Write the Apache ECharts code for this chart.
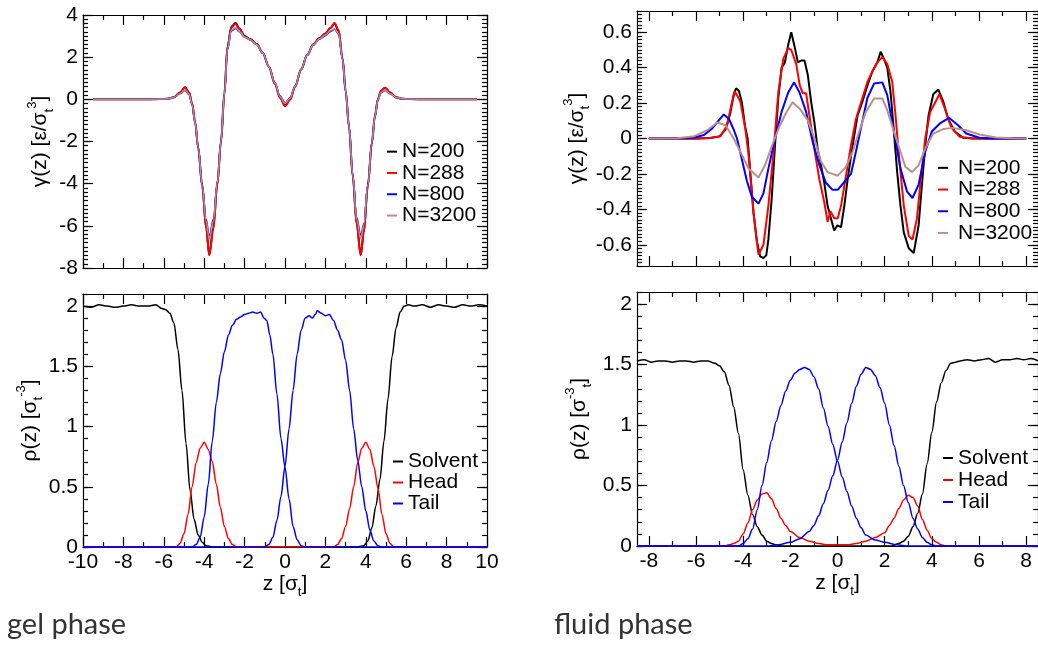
<!DOCTYPE html>
<html><head><meta charset="utf-8">
<script src="https://cdn.jsdelivr.net/npm/echarts@6/dist/echarts.min.js"></script>
<style>html,body{margin:0;padding:0;background:#fff}#c{width:1038px;height:645px}</style>
</head><body><div id="c"></div><script>
// ---------- gel phase, gamma(z) ----------
const zGelG = [-9.5, -7, -6.2, -5.8, -5.5, -5.2, -4.95, -4.75, -4.6, -4.45, -4.3, -4.1, -3.9, -3.75, -3.55, -3.35, -3.17, -3.0, -2.85, -2.65, -2.45, -2.25, -2.0, -1.7, -1.4, -1.1, -0.8, -0.5, -0.25, 0, 0.25, 0.5, 0.8, 1.1, 1.4, 1.7, 2.0, 2.25, 2.45, 2.65, 2.85, 3.0, 3.17, 3.35, 3.55, 3.75, 3.9, 4.1, 4.3, 4.45, 4.6, 4.75, 4.95, 5.2, 5.5, 5.8, 6.2, 7, 9.5];
const gelN200 = [0, 0, 0.01, 0.03, 0.1, 0.32, 0.57, 0.32, -0.2, -1.1, -2.3, -4.1, -6.1, -7.38, -6.1, -4.0, -2.0, 0.3, 2.5, 3.45, 3.62, 3.35, 3.0, 2.85, 2.62, 2.2, 1.55, 0.75, 0.1, -0.3, 0.0, 0.6, 1.42, 2.1, 2.6, 2.9, 3.12, 3.38, 3.6, 3.25, 1.9, 0.4, -1.3, -3.6, -5.9, -7.38, -6.3, -4.1, -2.1, -0.8, 0.0, 0.4, 0.55, 0.32, 0.1, 0.03, 0.01, 0, 0];
const gelN288 = [0, 0, 0.01, 0.03, 0.1, 0.31, 0.56, 0.33, -0.18, -1.05, -2.25, -4.1, -6.1, -7.4, -6.15, -4.05, -2.05, 0.25, 2.45, 3.42, 3.57, 3.33, 2.98, 2.83, 2.62, 2.2, 1.55, 0.73, 0.08, -0.32, -0.02, 0.6, 1.42, 2.1, 2.6, 2.88, 3.1, 3.38, 3.62, 3.3, 1.95, 0.42, -1.3, -3.65, -5.95, -7.4, -6.3, -4.1, -2.05, -0.78, 0.0, 0.4, 0.55, 0.32, 0.1, 0.03, 0.01, 0, 0];
const gelN800 = [0, 0, 0.01, 0.03, 0.09, 0.26, 0.42, 0.22, -0.25, -1.1, -2.25, -4.0, -5.7, -6.5, -5.7, -3.9, -2.0, 0.25, 2.35, 3.25, 3.36, 3.2, 2.95, 2.8, 2.6, 2.2, 1.57, 0.8, 0.17, -0.17, 0.08, 0.65, 1.44, 2.1, 2.58, 2.85, 3.02, 3.22, 3.32, 3.1, 1.9, 0.4, -1.25, -3.5, -5.6, -6.45, -5.9, -4.0, -2.05, -0.85, -0.05, 0.3, 0.42, 0.26, 0.08, 0.03, 0.01, 0, 0];
const gelN3200 = [0, 0, 0.01, 0.03, 0.09, 0.27, 0.44, 0.24, -0.24, -1.1, -2.25, -4.05, -5.8, -6.62, -5.8, -3.95, -2.0, 0.25, 2.38, 3.28, 3.4, 3.22, 2.96, 2.82, 2.6, 2.2, 1.56, 0.78, 0.14, -0.2, 0.05, 0.63, 1.43, 2.1, 2.58, 2.86, 3.05, 3.25, 3.35, 3.12, 1.9, 0.4, -1.27, -3.55, -5.7, -6.6, -5.95, -4.05, -2.05, -0.83, -0.03, 0.33, 0.44, 0.27, 0.09, 0.03, 0.01, 0, 0];

// ---------- gel phase, rho(z) ----------
const zSolG = [-10, -9.6, -9.2, -8.8, -8.4, -8, -7.6, -7.2, -6.8, -6.4, -6.1, -5.9, -5.7, -5.5, -5.3, -5.1, -4.9, -4.7, -4.5, -4.3, -4.1, -3.9, -3.5, 3.5, 3.9, 4.1, 4.3, 4.5, 4.7, 4.9, 5.1, 5.3, 5.5, 5.7, 5.9, 6.1, 6.4, 6.8, 7.2, 7.6, 8, 8.4, 8.8, 9.2, 9.6, 10];
const solG = [2.0, 1.99, 2.01, 2.0, 1.99, 2.0, 2.01, 2.0, 2.0, 2.01, 1.98, 1.97, 1.94, 1.86, 1.64, 1.3, 0.86, 0.47, 0.23, 0.1, 0.04, 0.01, 0, 0, 0.01, 0.05, 0.16, 0.34, 0.56, 0.88, 1.23, 1.58, 1.82, 1.95, 2.0, 2.01, 2.0, 2.01, 1.99, 2.01, 2.0, 1.99, 2.01, 2.0, 2.01, 2.0];
const zHeadG = [-10, -5.4, -5.2, -5.0, -4.8, -4.6, -4.4, -4.2, -4.0, -3.8, -3.6, -3.4, -3.2, -3.0, -2.8, -2.6, -2.4, 2.4, 2.6, 2.8, 3.0, 3.2, 3.4, 3.6, 3.8, 4.0, 4.2, 4.4, 4.6, 4.8, 5.0, 5.2, 5.4, 10];
const headG = [0, 0, 0.03, 0.11, 0.27, 0.5, 0.7, 0.82, 0.87, 0.81, 0.71, 0.52, 0.33, 0.17, 0.07, 0.02, 0, 0, 0.02, 0.07, 0.17, 0.32, 0.5, 0.7, 0.82, 0.87, 0.81, 0.67, 0.49, 0.27, 0.11, 0.03, 0, 0];
const zTailGL = [-10, -4.6, -4.4, -4.2, -4.0, -3.8, -3.6, -3.4, -3.2, -3.0, -2.8, -2.6, -2.4, -2.2, -2.0, -1.8, -1.6, -1.4, -1.2, -1.05, -0.9, -0.75, -0.6, -0.4, -0.2, 0, 0.2, 0.4, 0.6, 0.8, 1.0, 10];
const tailGL = [0, 0, 0.02, 0.08, 0.25, 0.52, 0.88, 1.2, 1.44, 1.62, 1.76, 1.84, 1.89, 1.91, 1.93, 1.94, 1.95, 1.94, 1.95, 1.9, 1.88, 1.76, 1.6, 1.27, 0.9, 0.66, 0.4, 0.17, 0.06, 0.01, 0, 0];
const zTailGR = [-10, -1.0, -0.8, -0.6, -0.4, -0.2, 0, 0.2, 0.4, 0.6, 0.8, 1.0, 1.2, 1.35, 1.5, 1.6, 1.8, 2.0, 2.2, 2.4, 2.6, 2.8, 3.0, 3.2, 3.4, 3.6, 3.8, 4.0, 4.2, 4.4, 4.6, 4.8, 10];
const tailGR = [0, 0, 0.02, 0.08, 0.22, 0.42, 0.67, 0.98, 1.3, 1.6, 1.8, 1.9, 1.92, 1.9, 1.93, 1.96, 1.94, 1.92, 1.93, 1.88, 1.8, 1.72, 1.55, 1.3, 0.98, 0.72, 0.5, 0.3, 0.14, 0.05, 0.01, 0, 0];

// ---------- fluid phase, gamma(z) ----------
const zF200 = [-8, -6, -5.4, -5.0, -4.75, -4.55, -4.4, -4.3, -4.18, -4.05, -3.92, -3.81, -3.7, -3.56, -3.42, -3.28, -3.14, -3.02, -2.93, -2.79, -2.65, -2.51, -2.37, -2.23, -2.09, -1.96, -1.82, -1.68, -1.54, -1.4, -1.26, -1.12, -0.98, -0.84, -0.7, -0.56, -0.42, -0.28, -0.14, 0.0, 0.15, 0.29, 0.43, 0.64, 0.85, 1.06, 1.27, 1.48, 1.69, 1.83, 1.97, 2.11, 2.25, 2.39, 2.53, 2.67, 2.81, 3.02, 3.23, 3.44, 3.58, 3.72, 3.86, 4.06, 4.27, 4.48, 4.69, 4.97, 5.32, 5.8, 8];
const gF200 = [0, 0, 0.003, 0.012, 0.05, 0.14, 0.25, 0.283, 0.27, 0.2, 0.07, 0, -0.19, -0.42, -0.58, -0.665, -0.675, -0.66, -0.57, -0.34, -0.04, 0.23, 0.4, 0.43, 0.53, 0.6, 0.52, 0.43, 0.44, 0.44, 0.36, 0.21, 0.09, -0.06, -0.15, -0.25, -0.38, -0.45, -0.52, -0.49, -0.5, -0.38, -0.23, -0.04, 0.13, 0.21, 0.3, 0.38, 0.43, 0.49, 0.45, 0.4, 0.26, 0.04, -0.19, -0.38, -0.53, -0.62, -0.647, -0.49, -0.26, -0.04, 0.13, 0.25, 0.277, 0.21, 0.11, 0.04, 0.004, 0, 0];
const zF288 = [-8, -6, -5.4, -4.96, -4.68, -4.5, -4.35, -4.12, -3.91, -3.77, -3.56, -3.35, -3.14, -2.93, -2.72, -2.51, -2.3, -2.09, -1.96, -1.75, -1.6, -1.47, -1.33, -1.19, -0.98, -0.77, -0.56, -0.42, -0.3, -0.14, 0.01, 0.15, 0.36, 0.57, 0.78, 1.06, 1.27, 1.48, 1.69, 1.9, 2.11, 2.32, 2.46, 2.6, 2.81, 3.02, 3.18, 3.37, 3.53, 3.72, 3.93, 4.32, 4.55, 4.83, 5.18, 5.7, 8];
const gF288 = [0, 0, 0.003, 0.013, 0.075, 0.19, 0.265, 0.21, 0.057, -0.09, -0.42, -0.657, -0.6, -0.38, -0.09, 0.26, 0.45, 0.51, 0.5, 0.42, 0.3, 0.255, 0.255, 0.13, -0.06, -0.23, -0.36, -0.47, -0.41, -0.45, -0.45, -0.38, -0.21, -0.04, 0.11, 0.23, 0.32, 0.38, 0.43, 0.46, 0.42, 0.32, 0.13, -0.09, -0.38, -0.55, -0.57, -0.45, -0.23, 0, 0.15, 0.25, 0.17, 0.06, 0.01, 0, 0];
const zF800 = [-8, -6.5, -6.07, -5.66, -5.31, -5.05, -4.82, -4.6, -4.4, -4.26, -4.05, -3.84, -3.63, -3.35, -3.14, -2.93, -2.65, -2.37, -2.09, -1.84, -1.61, -1.33, -1.05, -0.77, -0.49, -0.21, 0.01, 0.29, 0.57, 0.78, 0.99, 1.27, 1.55, 1.9, 2.11, 2.39, 2.67, 2.95, 3.18, 3.44, 3.72, 4.0, 4.34, 4.73, 5.11, 5.46, 6.02, 6.5, 8];
const gF800 = [0, 0.002, 0.006, 0.02, 0.057, 0.1, 0.136, 0.11, 0.05, 0, -0.12, -0.24, -0.33, -0.368, -0.31, -0.17, 0, 0.15, 0.26, 0.317, 0.26, 0.15, -0.02, -0.15, -0.25, -0.29, -0.29, -0.245, -0.2, -0.075, 0.057, 0.23, 0.31, 0.317, 0.245, 0.04, -0.17, -0.3, -0.336, -0.26, -0.075, 0.04, 0.085, 0.117, 0.075, 0.028, 0.004, 0, 0];
const zF3200 = [-8, -6.8, -6.07, -5.52, -5.1, -4.75, -4.4, -4.12, -3.77, -3.35, -3.07, -2.72, -2.44, -2.16, -1.91, -1.61, -1.26, -0.98, -0.7, -0.42, -0.21, 0.01, 0.15, 0.36, 0.64, 0.92, 1.2, 1.55, 1.9, 2.11, 2.39, 2.67, 2.88, 3.16, 3.44, 3.72, 4.06, 4.48, 4.9, 5.46, 6.02, 6.72, 7.4, 8];
const gF3200 = [0, 0.002, 0.013, 0.047, 0.09, 0.075, 0, -0.075, -0.17, -0.22, -0.15, -0.02, 0.075, 0.15, 0.204, 0.17, 0.104, 0, -0.13, -0.19, -0.2, -0.21, -0.19, -0.16, -0.075, 0.04, 0.15, 0.226, 0.226, 0.16, 0.04, -0.075, -0.16, -0.19, -0.15, -0.057, 0.028, 0.053, 0.06, 0.047, 0.023, 0.006, 0.001, 0];

// ---------- fluid phase, rho(z) ----------
const zSolF = [-8.5, -8.2, -7.9, -7.6, -7.3, -7.0, -6.7, -6.4, -6.1, -5.8, -5.5, -5.2, -5.0, -4.8, -4.6, -4.4, -4.2, -4.0, -3.8, -3.6, -3.4, -3.2, -3.0, -2.8, -2.6, -2.3, 2.3, 2.6, 2.8, 3.0, 3.2, 3.4, 3.6, 3.8, 4.0, 4.2, 4.4, 4.6, 4.8, 5.0, 5.2, 5.5, 5.8, 6.1, 6.4, 6.7, 7.0, 7.3, 7.6, 7.9, 8.2, 8.5];
const solF = [1.53, 1.54, 1.52, 1.53, 1.53, 1.52, 1.53, 1.53, 1.52, 1.53, 1.53, 1.51, 1.49, 1.44, 1.33, 1.15, 0.93, 0.63, 0.42, 0.26, 0.16, 0.09, 0.04, 0.02, 0.01, 0, 0, 0.02, 0.04, 0.08, 0.16, 0.27, 0.43, 0.68, 0.94, 1.19, 1.35, 1.45, 1.51, 1.52, 1.53, 1.54, 1.53, 1.54, 1.55, 1.52, 1.54, 1.54, 1.55, 1.54, 1.55, 1.53];
const zHeadF = [-8.5, -4.8, -4.6, -4.4, -4.2, -4.0, -3.8, -3.6, -3.4, -3.2, -3.0, -2.8, -2.6, -2.4, -2.2, -2.0, -1.6, -1.2, -0.8, -0.4, 0, 0.4, 0.8, 1.2, 1.6, 2.0, 2.2, 2.4, 2.6, 2.8, 3.0, 3.2, 3.4, 3.6, 3.8, 4.0, 4.2, 4.4, 4.6, 8.5];
const headF = [0, 0, 0.01, 0.02, 0.04, 0.1, 0.19, 0.3, 0.38, 0.43, 0.44, 0.39, 0.31, 0.23, 0.17, 0.12, 0.07, 0.04, 0.02, 0.01, 0.01, 0.01, 0.02, 0.04, 0.07, 0.11, 0.17, 0.23, 0.31, 0.38, 0.42, 0.4, 0.33, 0.22, 0.13, 0.06, 0.03, 0.01, 0, 0];
const zTailFL = [-8.5, -4.2, -4.0, -3.8, -3.6, -3.4, -3.2, -3.0, -2.8, -2.6, -2.4, -2.2, -2.0, -1.8, -1.6, -1.4, -1.2, -1.0, -0.8, -0.6, -0.4, -0.2, 0, 0.2, 0.4, 0.6, 0.8, 1.0, 1.2, 1.6, 2.0, 2.5, 3.0, 8.5];
const tailFL = [0, 0, 0.02, 0.06, 0.14, 0.3, 0.5, 0.69, 0.87, 1.03, 1.16, 1.28, 1.37, 1.43, 1.46, 1.475, 1.46, 1.4, 1.3, 1.14, 0.99, 0.84, 0.7, 0.57, 0.45, 0.33, 0.23, 0.15, 0.09, 0.05, 0.03, 0.01, 0, 0];
const zTailFR = [-8.5, -3.0, -2.5, -2.0, -1.6, -1.2, -1.0, -0.8, -0.6, -0.4, -0.2, 0, 0.2, 0.4, 0.6, 0.8, 1.0, 1.2, 1.4, 1.6, 1.8, 2.0, 2.2, 2.4, 2.6, 2.8, 3.0, 3.2, 3.4, 3.6, 3.8, 4.0, 4.2, 8.5];
const tailFR = [0, 0, 0.01, 0.03, 0.06, 0.12, 0.17, 0.25, 0.35, 0.46, 0.58, 0.71, 0.86, 1.02, 1.18, 1.32, 1.42, 1.475, 1.46, 1.41, 1.31, 1.18, 1.0, 0.83, 0.66, 0.5, 0.36, 0.23, 0.14, 0.07, 0.03, 0.01, 0, 0];

// ---------- tick labels ----------
const xTicksGel = [-10, -8, -6, -4, -2, 0, 2, 4, 6, 8, 10];
const xTicksFluid = [-8, -6, -4, -2, 0, 2, 4, 6, 8];
const yTicksGelGamma = [-8, -6, -4, -2, 0, 2, 4];
const yTicksFluidGamma = [-0.6, -0.4, -0.2, 0, 0.2, 0.4, 0.6];
const yTicksRho = [0, 0.5, 1, 1.5, 2];
const legendGamma = ['N=200', 'N=288', 'N=800', 'N=3200'];
const legendRho = ['Solvent', 'Head', 'Tail'];

// ---------- build ----------
const FONT = '"Liberation Sans", Arial, Helvetica, sans-serif';
const FS = 21;
const C = {black: '#000000', red: '#ff0000', blue: '#0000ff', brown: '#bc8f8f'};
function steps(a, b, s) { const o = []; const n = Math.round((b - a) / s); for (let i = 0; i <= n; i++) o.push(+(a + i * s).toFixed(4)); return o; }
function zip(x, y) { return x.map((v, i) => [v, y[i]]); }

const rich = {
  a: {fontSize: FS, fontFamily: FONT, color: '#000', lineHeight: 30},
  s: {fontSize: 13, fontFamily: FONT, color: '#000', verticalAlign: 'bottom', lineHeight: 13},
  p: {fontSize: 13, fontFamily: FONT, color: '#000', verticalAlign: 'top', lineHeight: 13}
};
const gammaName = '{a|γ(z) [ε/σ}{s|t}{p|3}{a|]}';
const rhoNameGel = '{a|ρ(z) [σ}{s|t}{p|-3}{a|]}';
const rhoNameFluid = '{a|ρ(z) [σ}{p|-3}{s|t}{a|]}';
const zName = '{a|z [σ}{s|t}{a|]}';

const grids = [
  {left: 83, top: 15, width: 404, height: 253},
  {left: 83, top: 294, width: 404, height: 253},
  {left: 637, top: 11, width: 408, height: 255},
  {left: 637, top: 292, width: 408, height: 254}
];
const panels = [
  {x: [-10, 10], y: [-8, 4], xMaj: xTicksGel, xMin: steps(-9, 9, 2), yMaj: yTicksGelGamma, yMin: steps(-8, 4, 0.2), xLab: false, yName: gammaName, yGap: 26},
  {x: [-10, 10], y: [0, 2.1], xMaj: xTicksGel, xMin: steps(-9, 9, 2), yMaj: yTicksRho, yMin: steps(0, 2.1, 0.1), xLab: true, yName: rhoNameGel, yGap: 38},
  {x: [-8.5, 8.5], y: [-0.72, 0.72], xMaj: xTicksFluid, xMin: steps(-7, 7, 2), yMaj: yTicksFluidGamma, yMin: steps(-0.72, 0.72, 0.02), xLab: false, yName: gammaName, yGap: 42},
  {x: [-8.5, 8.5], y: [0, 2.1], xMaj: xTicksFluid, xMin: steps(-7, 7, 2), yMaj: yTicksRho, yMin: steps(0, 2.1, 0.1), xLab: true, yName: rhoNameFluid, yGap: 43}
];

const xAxis = [], yAxis = [];
const lineS = {color: '#000', width: 1.2};
function mk(gi, pos, ext, vals, len, line, label, extra) {
  return Object.assign({
    type: 'value', gridIndex: gi, position: pos, min: ext[0], max: ext[1],
    axisLine: {show: line, onZero: false, lineStyle: lineS},
    axisTick: {show: true, inside: true, length: len, customValues: vals, lineStyle: lineS},
    axisLabel: label ? {show: true, customValues: vals, fontSize: FS, fontFamily: FONT, color: '#000', margin: 5} : {show: false},
    splitLine: {show: false}, minorTick: {show: false}
  }, extra || {});
}
const mainX = [], mainY = [];
panels.forEach((p, gi) => {
  mainX.push(xAxis.length);
  xAxis.push(mk(gi, 'bottom', p.x, p.xMaj, 10, true, p.xLab, p.xLab ? {name: zName, nameLocation: 'middle', nameGap: 22, nameTextStyle: {rich: rich}} : {}));
  xAxis.push(mk(gi, 'bottom', p.x, p.xMin, 5, false, false));
  xAxis.push(mk(gi, 'top', p.x, p.xMaj, 10, true, false));
  xAxis.push(mk(gi, 'top', p.x, p.xMin, 5, false, false));
  mainY.push(yAxis.length);
  yAxis.push(mk(gi, 'left', p.y, p.yMaj, 10, true, true, {name: p.yName, nameLocation: 'middle', nameGap: p.yGap, nameTextStyle: {rich: rich}}));
  yAxis.push(mk(gi, 'left', p.y, p.yMin, 5, false, false));
  yAxis.push(mk(gi, 'right', p.y, p.yMaj, 10, true, false));
  yAxis.push(mk(gi, 'right', p.y, p.yMin, 5, false, false));
});

function ser(name, gi, z, y, color, width, smooth) {
  return {type: 'line', name: name, xAxisIndex: mainX[gi], yAxisIndex: mainY[gi], data: zip(z, y),
    symbol: 'none', showSymbol: false, smooth: smooth, smoothMonotone: 'x',
    lineStyle: {color: color, width: width}, itemStyle: {color: color}};
}
const series = [
  ser('N=200', 0, zGelG, gelN200, C.black, 2, 0.35),
  ser('N=288', 0, zGelG, gelN288, C.red, 2, 0.35),
  ser('N=800', 0, zGelG, gelN800, C.blue, 1.5, 0.35),
  ser('N=3200', 0, zGelG, gelN3200, C.brown, 1.5, 0.35),
  ser('Solvent', 1, zSolG, solG, C.black, 1.5, 0.3),
  ser('Head', 1, zHeadG, headG, C.red, 1.5, 0.3),
  ser('Tail', 1, zTailGL, tailGL, C.blue, 1.5, 0.3),
  ser('Tail', 1, zTailGR, tailGR, C.blue, 1.5, 0.3),
  ser('N=200', 2, zF200, gF200, C.black, 2, false),
  ser('N=288', 2, zF288, gF288, C.red, 2, false),
  ser('N=800', 2, zF800, gF800, C.blue, 2, false),
  ser('N=3200', 2, zF3200, gF3200, C.brown, 2, false),
  ser('Solvent', 3, zSolF, solF, C.black, 1.5, 0.3),
  ser('Head', 3, zHeadF, headF, C.red, 1.5, 0.3),
  ser('Tail', 3, zTailFL, tailFL, C.blue, 1.5, 0.3),
  ser('Tail', 3, zTailFR, tailFR, C.blue, 1.5, 0.3)
];

function leg(data, left, top, lh, pad) {
  return {data: data, orient: 'vertical', left: left, top: top, padding: 0, itemGap: 0, icon: 'rect',
    itemWidth: 10, itemHeight: 2, selectedMode: false,
    textStyle: {fontSize: FS, fontFamily: FONT, color: '#000', lineHeight: lh, padding: [0, 0, 0, pad]}};
}

const chart = echarts.init(document.getElementById('c'), null, {renderer: 'canvas'});
chart.setOption({
  animation: false,
  backgroundColor: '#ffffff',
  grid: grids,
  xAxis: xAxis,
  yAxis: yAxis,
  legend: [
    leg(legendGamma, 387, 141, 21.3, 0),
    leg(legendRho, 393, 451, 20.5, 0),
    leg(legendGamma, 938, 157, 21.7, 5),
    leg(legendRho, 943, 447, 22, 0)
  ],
  title: [
    {text: 'gel phase', left: 7, top: 610, padding: 0, textStyle: {fontFamily: 'Lato', fontSize: 29, fontWeight: 'normal', color: '#333333'}},
    {text: 'fluid phase', left: 554, top: 610, padding: 0, textStyle: {fontFamily: 'Lato', fontSize: 29, fontWeight: 'normal', color: '#333333'}}
  ],
  series: series
});
</script></body></html>
